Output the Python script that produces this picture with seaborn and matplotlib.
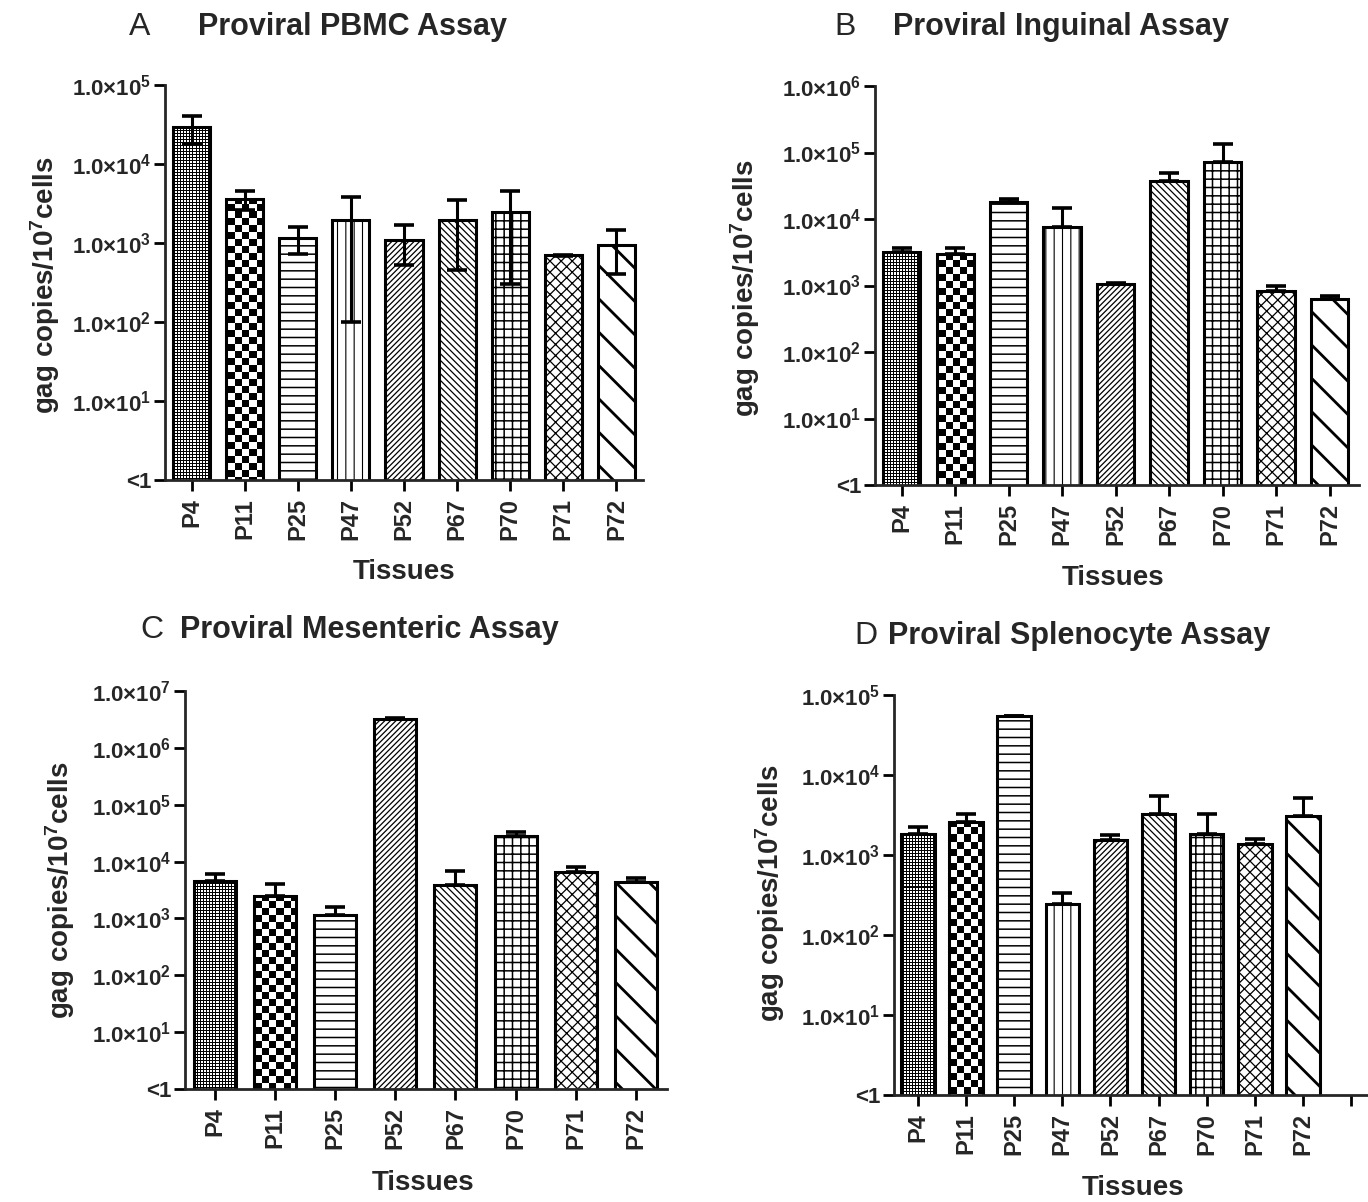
import numpy as np
import pandas as pd
import matplotlib
matplotlib.use("Agg")
import matplotlib.pyplot as plt
import seaborn as sns
from matplotlib.ticker import FixedLocator, FixedFormatter, NullLocator

# ---------------- data ----------------
tissues_A = ["P4", "P11", "P25", "P47", "P52", "P67", "P70", "P71", "P72"]
values_A = [29000, 3600, 1160, 1950, 1100, 1960, 2450, 700, 930]
sd_A = [11000, 950, 440, 1850, 570, 1500, 2150, 15, 530]

tissues_B = ["P4", "P11", "P25", "P47", "P52", "P67", "P70", "P71", "P72"]
values_B = [3240, 2980, 18300, 7500, 1040, 37500, 72000, 820, 630]
sd_B = [410, 670, 1800, 7200, 40, 11800, 63000, 180, 56]

tissues_C = ["P4", "P11", "P25", "P52", "P67", "P70", "P71", "P72"]
values_C = [4500, 2440, 1150, 3270000, 3870, 28500, 6670, 4450]
sd_C = [1470, 1540, 410, 60000, 2990, 4200, 1230, 740]

tissues_D = ["P4", "P11", "P25", "P47", "P52", "P67", "P70", "P71", "P72"]
values_D = [1850, 2620, 54000, 247, 1520, 3260, 1850, 1370, 3100]
sd_D = [410, 670, 1000, 86, 240, 2140, 1440, 230, 1990]

yticks_5 = [1, 10, 100, 1e3, 1e4, 1e5]
ylabels_5 = ["<1", "1.0×10$^{1}$", "1.0×10$^{2}$", "1.0×10$^{3}$",
             "1.0×10$^{4}$", "1.0×10$^{5}$"]
yticks_6 = yticks_5 + [1e6]
ylabels_6 = ylabels_5 + ["1.0×10$^{6}$"]
yticks_7 = yticks_6 + [1e7]
ylabels_7 = ylabels_6 + ["1.0×10$^{7}$"]

titles = ["Proviral PBMC Assay", "Proviral Inguinal Assay",
          "Proviral Mesenteric Assay", "Proviral Splenocyte Assay"]
letters = ["A", "B", "C", "D"]
ylabel_text = "gag copies/10$^{7}$cells"
xlabel_text = "Tissues"

# hatch per tissue (style)
hatches = {"P25": "--", "P47": "||", "P52": "//////", "P67": "\\\\\\\\\\",
           "P70": "++", "P71": "xxx", "P72": "\\"}
hatch_lw = {"P25": 1.1, "P47": 0.8, "P52": 0.9, "P67": 0.9,
            "P70": 1.1, "P71": 0.9, "P72": 2.0}

# ---------------- style ----------------
sns.set_style("ticks")
plt.rcParams["font.family"] = ["Liberation Sans", "DejaVu Sans"]
plt.rcParams["mathtext.fontset"] = "custom"
plt.rcParams["mathtext.rm"] = "Liberation Sans"
plt.rcParams["mathtext.bf"] = "Liberation Sans:bold"
plt.rcParams["mathtext.default"] = "bf"
plt.rcParams["hatch.color"] = "black"
plt.rcParams["axes.linewidth"] = 2.0

W, H = 1368, 1202
fig = plt.figure(figsize=(W / 100, H / 100), dpi=100)


def rect(l, t, r, b):
    return [l / W, 1 - b / H, (r - l) / W, (b - t) / H]


def texture_fill(ax, patch, kind, w_px, h_px):
    yy, xx = np.indices((h_px, w_px))
    if kind == "fine":
        img = ((xx % 3 != 0) & (yy % 3 != 0)).astype(float)
    else:
        c = 7
        img = (((xx // c) + (yy // c)) % 2).astype(float)
    im = ax.imshow(img, cmap="gray", vmin=0, vmax=1, extent=(0, 1, 0, 1),
                   transform=ax.transAxes, aspect="auto",
                   interpolation="nearest", zorder=patch.get_zorder() - 0.05)
    im.set_clip_path(patch)
    patch.set_facecolor("none")


panels = [
    dict(cats=tissues_A, vals=values_A, sds=sd_A, both=True,
         yt=yticks_5, yl=ylabels_5, box=(165, 85, 643, 480), xmax=8.5,
         order=tissues_A, ylab=(45, 285), xlab=(404, 572),
         let=(140, 27), tit=(198, 27)),
    dict(cats=tissues_B, vals=values_B, sds=sd_B, both=False,
         yt=yticks_6, yl=ylabels_6, box=(875, 86, 1359, 485), xmax=8.55,
         order=tissues_B, ylab=(745, 288), xlab=(1113, 578),
         let=(845, 27), tit=(893, 27)),
    dict(cats=tissues_C, vals=values_C, sds=sd_C, both=False,
         yt=yticks_7, yl=ylabels_7, box=(185, 691, 667, 1089), xmax=7.52,
         order=tissues_C, ylab=(60, 890), xlab=(423, 1183),
         let=(152, 630), tit=(180, 630)),
    dict(cats=tissues_D, vals=values_D, sds=sd_D, both=False,
         yt=yticks_5, yl=ylabels_5, box=(894, 695, 1375, 1095), xmax=9.5,
         order=tissues_D + [" "], ylab=(770, 893), xlab=(1133, 1188),
         let=(866, 636), tit=(888, 636)),
]

for i, p in enumerate(panels):
    l, t, r, b = p["box"]
    ax = fig.add_axes(rect(l, t, r, b))
    ax.set_yscale("log")
    df = pd.DataFrame({"tissue": p["cats"], "value": p["vals"]})
    sns.barplot(data=df, x="tissue", y="value", order=p["order"],
                color="white", saturation=1, edgecolor="black",
                linewidth=2.2, width=0.7, errorbar=None, ax=ax, zorder=2)
    ax.set_xlim(-0.5, p["xmax"])
    ax.set_ylim(1, p["yt"][-1])
    ax.set_autoscale_on(False)

    centers = {}
    for patch in list(ax.patches):
        cx = patch.get_x() + patch.get_width() / 2
        idx = int(round(cx))
        if idx >= len(p["order"]):
            continue
        name = p["order"][idx]
        centers[name] = cx
        if name == "P4":
            texture_fill(ax, patch, "fine", r - l, b - t)
        elif name == "P11":
            texture_fill(ax, patch, "coarse", r - l, b - t)
        elif name in hatches:
            patch.set_hatch(hatches[name])
            if hasattr(patch, "set_hatch_linewidth"):
                patch.set_hatch_linewidth(hatch_lw[name])

    xs = [centers[c] for c in p["cats"]]
    sds = np.array(p["sds"], dtype=float)
    if p["both"]:
        yerr = [sds, sds]
    else:
        yerr = [np.zeros_like(sds), sds]
    ax.errorbar(xs, p["vals"], yerr=yerr, fmt="none", ecolor="black",
                elinewidth=2.2, capsize=7, capthick=2.6, zorder=4)

    # axes styling
    sns.despine(ax=ax)
    for s in ("left", "bottom"):
        ax.spines[s].set_linewidth(2.0)
    ax.yaxis.set_major_locator(FixedLocator(p["yt"]))
    ax.yaxis.set_major_formatter(FixedFormatter(p["yl"]))
    ax.yaxis.set_minor_locator(NullLocator())
    ax.tick_params(axis="both", which="major", width=2.0, length=8,
                   direction="out", color="black")
    ax.tick_params(axis="y", labelsize=16, pad=2)
    ax.tick_params(axis="x", labelsize=17, pad=5)
    for lab in ax.get_yticklabels():
        lab.set_fontweight("bold")
    for lab in ax.get_xticklabels():
        lab.set_fontweight("bold")
        lab.set_rotation(90)

    ax.set_xlabel(xlabel_text, fontsize=20, fontweight="bold")
    ax.set_ylabel(ylabel_text, fontsize=20, fontweight="bold")
    xl_x, xl_y = p["xlab"]
    ax.xaxis.set_label_coords((xl_x - l) / (r - l), -(xl_y - b) / (b - t))
    ax.xaxis.label.set_va("center")
    yl_x, yl_y = p["ylab"]
    ax.yaxis.set_label_coords((yl_x - l) / (r - l), (b - yl_y) / (b - t))
    ax.yaxis.label.set_va("center")

    lx, ly = p["let"]
    fig.text(lx / W, 1 - ly / H, letters[i], fontsize=23, ha="center",
             va="center")
    tx, ty = p["tit"]
    fig.text(tx / W, 1 - ty / H, titles[i], fontsize=22, fontweight="bold",
             ha="left", va="center")

fig.savefig("out.png", dpi=100)
